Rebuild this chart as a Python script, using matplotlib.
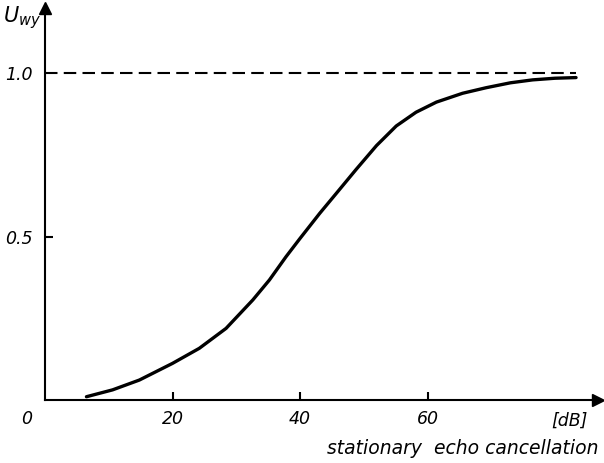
import matplotlib
matplotlib.use("Agg")
import matplotlib.pyplot as plt

# values
cancel_db = [6.5, 10.6, 14.8, 20, 24.2, 28.4, 32.6, 35.2, 37.8, 40, 43.1, 45.7,
             48.8, 52.0, 55.1, 58.2, 61.4, 65.5, 69.2, 73, 76.5, 80, 83.3]
u_wy = [0.010, 0.031, 0.061, 0.112, 0.158, 0.219, 0.306, 0.367, 0.438, 0.494,
        0.571, 0.632, 0.705, 0.778, 0.838, 0.880, 0.911, 0.938, 0.955, 0.970,
        0.979, 0.984, 0.986]
x_ticks = [20, 40, 60]
y_ticks = [0.5, 1.0]
y_ticklabels = ["0.5", "1.0"]
ref_level = 1.0
ref_end_db = 83.3

plt.rcParams["font.family"] = "DejaVu Sans"
plt.rcParams["mathtext.fontset"] = "dejavusans"

fig = plt.figure(figsize=(6.04, 4.63), dpi=100)
ax = fig.add_axes([45 / 604, 63 / 463, 553 / 604, 392 / 463])
ax.set_xlim(0, 553 / 6.375)
ax.set_ylim(0, 392 / 327)

for s in ["top", "right"]:
    ax.spines[s].set_visible(False)
for s in ["left", "bottom"]:
    ax.spines[s].set_linewidth(1.5)

# arrow heads on the axes
ax.plot(1, 0, ">k", transform=ax.transAxes, clip_on=False, markersize=9)
ax.plot(0, 1, "^k", transform=ax.transAxes, clip_on=False, markersize=9)

# curve and reference level
ax.plot(cancel_db, u_wy, color="black", lw=2.4, solid_capstyle="round",
        solid_joinstyle="round")
ax.plot([0, ref_end_db], [ref_level, ref_level], color="black", lw=1.5,
        dashes=(6, 3))

ax.set_xticks(x_ticks)
ax.set_xticklabels([str(t) for t in x_ticks], style="italic", fontsize=12.5)
ax.set_yticks(y_ticks)
ax.set_yticklabels(y_ticklabels, style="italic", fontsize=12.5)
ax.tick_params(axis="both", direction="in", length=6, width=1.5)
ax.tick_params(axis="x", pad=7)
ax.tick_params(axis="y", pad=9)
ax.yaxis.get_major_ticks()[1].tick1line.set_visible(False)

ax.text(-2.9, -0.057, "0", style="italic", fontsize=12.5, ha="center",
        va="center", clip_on=False)
ax.text(82.3, -0.064, "[dB]", style="italic", fontsize=12.5, ha="center",
        va="center", clip_on=False)
ax.text(86.9, -0.147, "stationary  echo cancellation", style="italic",
        fontsize=13.5, ha="right", va="center", clip_on=False)
ax.text(-3.6, 1.168, r"$U_{wy}$", fontsize=15, ha="center", va="center",
        clip_on=False)

fig.savefig("out.png", dpi=100)
